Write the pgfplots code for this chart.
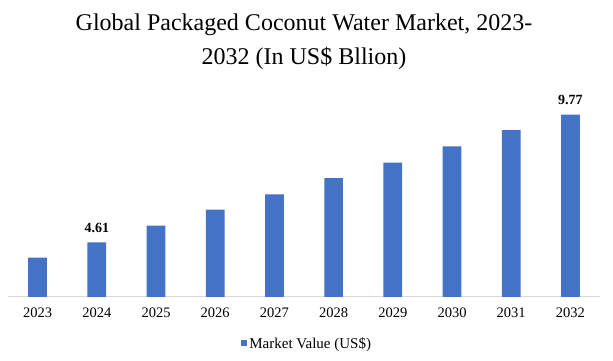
\documentclass[border=0pt]{standalone}
\usepackage{fontspec}
\setmainfont{Liberation Serif}
\usepackage{pgfplots}
\pgfplotsset{compat=1.18}
\usetikzlibrary{calc}
\definecolor{barblue}{HTML}{4472C4}
\definecolor{axgray}{HTML}{D9D9D9}
\begin{document}
\begin{tikzpicture}
\begin{axis}[
  scale only axis, width=592pt, height=200pt,
  xmin=-0.5, xmax=9.5, ymin=2.4, ymax=10.48,
  axis y line=none, axis x line*=bottom,
  x axis line style={draw=axgray, line width=1pt},
  xtick={0,...,9},
  xticklabels={2023,2024,2025,2026,2027,2028,2029,2030,2031,2032},
  major tick length=0pt,
  ytick=\empty,
  xticklabel style={anchor=base, inner sep=0pt, yshift=-21pt, font=\fontsize{14.5}{16}\selectfont},
  /pgf/number format/assume math mode=true,
  clip=false,
  ybar, bar width=18.7pt,
  legend style={at={(rel axis cs:0.505,0)}, anchor=north, yshift=-38pt, draw=none, fill=none,
    font=\fontsize{15}{17}\selectfont, inner sep=0pt,
    /tikz/every even column/.append style={column sep=0pt}},
]
\coordinate (O) at (rel axis cs:0,0);
\addplot[fill=barblue, draw=none,
  legend image code/.code={\fill[barblue] (0pt,-3pt) rectangle (6.5pt,3.5pt);},
  point meta=explicit symbolic,
  nodes near coords,
  every node near coord/.append style={anchor=base, inner sep=0pt, yshift=10pt, font=\bfseries\fontsize{14}{16}\selectfont, text=black}]
coordinates {
(0,3.99) []
(1,4.61) [4.61]
(2,5.28) []
(3,5.93) []
(4,6.55) []
(5,7.20) []
(6,7.83) []
(7,8.49) []
(8,9.14) []
(9,9.77) [9.77]
};
\addlegendentry{Market Value (US\$)}
\end{axis}
\node[anchor=base, inner sep=0pt, font=\fontsize{24}{28}\selectfont] at ($(O)+(296pt,266.4pt)$) {Global Packaged Coconut Water Market, 2023-};
\node[anchor=base, inner sep=0pt, font=\fontsize{24}{28}\selectfont] at ($(O)+(296pt,232.2pt)$) {2032 (In US\$ Bllion)};
\pgfresetboundingbox
\path[use as bounding box] ($(O)+(-8pt,-64pt)$) rectangle ++(613pt,361pt);
\end{tikzpicture}
\end{document}
